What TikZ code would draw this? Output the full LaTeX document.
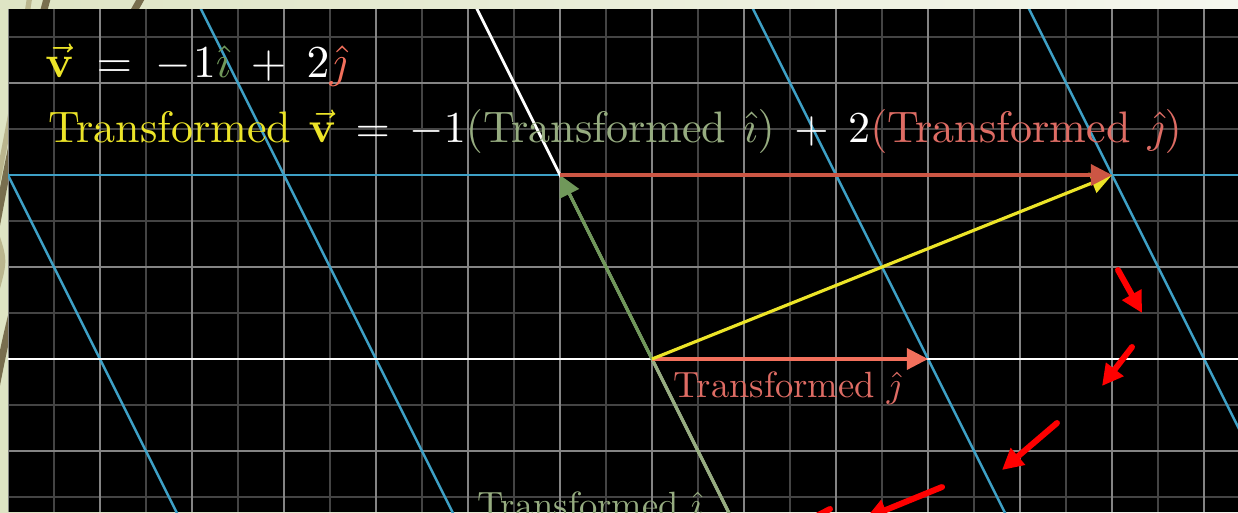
\documentclass[tikz,border=0pt]{standalone}
\usepackage{amsmath,amssymb}
\usepackage{graphicx}
\usepackage{xcolor}
\usepackage{tikz}
\usetikzlibrary{arrows.meta}

\definecolor{slidebg}{RGB}{222,228,196}
\definecolor{slidebgr}{RGB}{245,247,238}
\definecolor{wispdark}{RGB}{120,110,78}
\definecolor{wisplight}{RGB}{186,182,142}
\definecolor{gridmaj}{RGB}{132,132,132}
\definecolor{gridmin}{RGB}{68,68,68}
\definecolor{planeblue}{RGB}{62,160,198}
\definecolor{vyel}{RGB}{236,228,40}
\definecolor{igrn}{RGB}{112,152,90}
\definecolor{igrnl}{RGB}{150,172,128}
\definecolor{jsal}{RGB}{242,112,92}
\definecolor{jred}{RGB}{204,86,68}
\definecolor{jtxt}{RGB}{222,108,100}
\definecolor{markred}{RGB}{255,0,0}

\newcommand{\eqspacing}[2]{\thickmuskip=#1\relax\medmuskip=#2\relax}
\newcommand{\tword}{\text{Transformed\hspace{0.39em}}}

\begin{document}
\begin{tikzpicture}[
  x=0.02cm, y=-0.02cm,
  minorline/.style={gridmin, line width=0.85pt},
  majorline/.style={gridmaj, line width=0.85pt},
  planeline/.style={planeblue, line width=1.4pt},
  axisline/.style={white, line width=1.6pt},
  vecarrow/.style={line width=1.8pt, -{Triangle[length=12pt,width=12pt]}},
  marker/.style={markred, line width=3.4pt, line cap=round, -{Triangle[length=12pt,width=12pt]}},
  eqtext/.style={anchor=base west, inner sep=0pt, text=white},
  lbltext/.style={anchor=base west, inner sep=0pt}
]
\useasboundingbox (0,0) rectangle (1238,512);
\clip (0,0) rectangle (1238,512);

% slide frame
\shade[left color=slidebg, right color=slidebgr] (0,0) rectangle (1238,512);
\draw[wisplight, line width=3pt] (30,-5) .. controls (12,110) .. (-8,210);
\draw[wispdark, line width=4pt] (48,-5) .. controls (25,80) and (10,150) .. (-8,250);
\draw[wisplight, line width=4pt] (-6,230) .. controls (4,260) .. (-4,290);
\draw[wispdark, line width=4pt] (143,-5) .. controls (60,140) and (18,260) .. (-8,410);
\fill[black] (8,9) rectangle (1238,512);

\begin{scope}
\clip (8,9) rectangle (1238,512);
% background grid
\foreach \gx in {54,146,...,1158} \draw[minorline] (\gx,9) -- (\gx,512);
\foreach \gy in {37,129,...,497} \draw[minorline] (8,\gy) -- (1238,\gy);
\foreach \gx in {8,100,...,1204} \draw[majorline] (\gx,9) -- (\gx,512);
\foreach \gy in {83,175,...,451} \draw[majorline] (8,\gy) -- (1238,\gy);

% transformed plane
\foreach \bx in {100,376,928,1204} \draw[planeline] (\bx-189.5,-20) -- (\bx+90.5,540);
\draw[planeline] (8,175) -- (1238,175);
\draw[axisline] (8,359) -- (1238,359);
\draw[axisline] (462.5,-20) -- (742.5,540);

% vectors
\coordinate (O) at (652,359);
\coordinate (iT) at (744,543);
\coordinate (iN) at (560,175);
\coordinate (jT) at (928,359);
\coordinate (vT) at (1112,175);
\draw[vecarrow, igrnl] (O) -- (iT);
\draw[vecarrow, igrn] (O) -- (iN);
\draw[vecarrow, jsal] (O) -- (jT);
\draw[vecarrow, vyel] (O) -- (vT);
\draw[vecarrow, jred] (iN) -- (vT);

% labels
\node[eqtext] (veq) at (45,77)
  {\scalebox{2.6}{$\eqspacing{9mu}{8mu}\textcolor{vyel}{\vec{\mathbf v}} = -\mkern1mu 1\textcolor{igrn}{\hat\imath} + 2\textcolor{jsal}{\hat\jmath}$}};
\node[eqtext] (tveq) at (48,142)
  {\scalebox{2.51}{$\eqspacing{8mu}{8mu}\textcolor{vyel}{\tword\vec{\mathbf v}} = -1\textcolor{igrnl}{(\tword\hat\imath)} + 2\textcolor{jtxt}{(\tword\hat\jmath)}$}};
\node[lbltext, text=jtxt] (jlbl) at (673,397) {\scalebox{2.08}{Transformed $\hat\jmath$}};
\node[lbltext, text=igrnl] (ilbl) at (477,517) {\scalebox{2.08}{Transformed $\hat\imath$}};

% red marks
\coordinate (m1s) at (1118,270); \coordinate (m1e) at (1142,313);
\coordinate (m2s) at (1132,347); \coordinate (m2e) at (1102,386);
\coordinate (m3s) at (1057,423); \coordinate (m3e) at (1002,470);
\coordinate (m4s) at (942,487);  \coordinate (m4e) at (866,518);
\coordinate (m5s) at (830,509);  \coordinate (m5e) at (770,540);
\draw[marker] (m1s) -- (m1e);
\draw[marker] (m2s) -- (m2e);
\draw[marker] (m3s) -- (m3e);
\draw[marker] (m4s) -- (m4e);
\draw[marker] (m5s) -- (m5e);
\end{scope}
\end{tikzpicture}
\end{document}
